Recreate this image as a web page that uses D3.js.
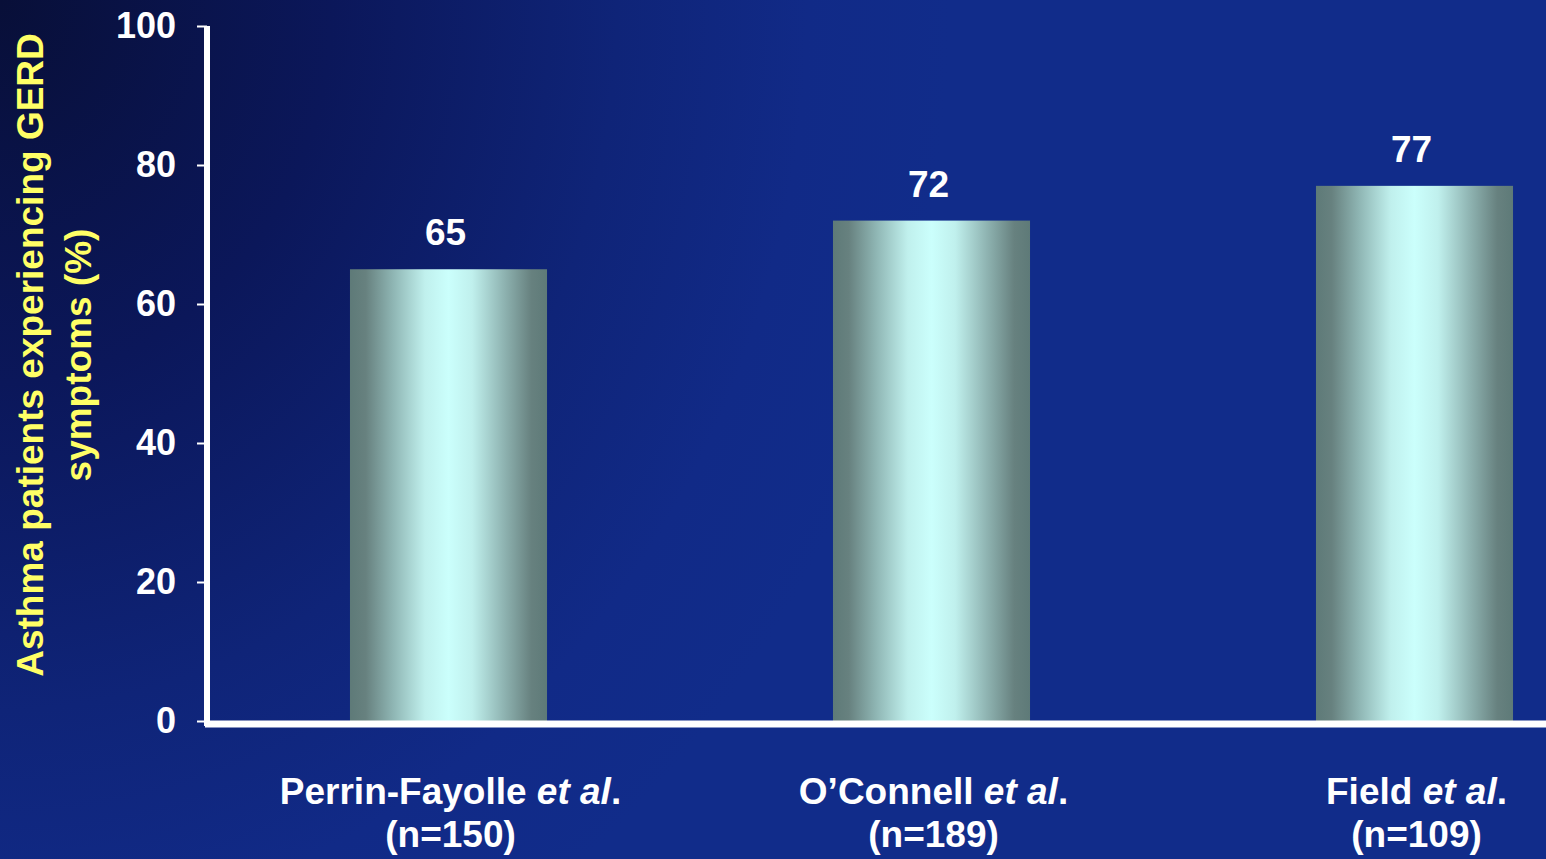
<!DOCTYPE html>
<html><head><meta charset="utf-8">
<script src="https://cdn.jsdelivr.net/npm/d3@7"></script>
<style>html,body{margin:0;padding:0;overflow:hidden;background:#112b89;}svg{display:block;}</style>
</head><body>
<svg id="chart" width="1546" height="859"></svg>
<script>
const categories = ["Perrin-Fayolle", "O\u2019Connell", "Field"];
const sampleSizes = ["(n=150)", "(n=189)", "(n=109)"];
const values = [65, 72, 77];
const yTicks = [0, 20, 40, 60, 80, 100];
const yTitleLines = ["Asthma patients experiencing GERD", "symptoms (%)"];

const W = 1546, H = 859;
const svg = d3.select("#chart");
const defs = svg.append("defs");

const bg = defs.append("radialGradient").attr("id", "bg")
  .attr("gradientUnits", "userSpaceOnUse").attr("cx", 0).attr("cy", 0).attr("r", 950)
  .attr("gradientTransform", "translate(0,0) scale(1,1.15)");
[[0, "#080f38"], [0.35, "#0b175a"], [0.65, "#0f2478"], [0.85, "#112a87"], [1, "#112c8a"]]
  .forEach(([o, c]) => bg.append("stop").attr("offset", o).attr("stop-color", c));
svg.append("rect").attr("width", W).attr("height", H).attr("fill", "url(#bg)");

const barG = defs.append("linearGradient").attr("id", "bar").attr("x1", 0).attr("x2", 1).attr("y1", 0).attr("y2", 0);
[[0, "#5e7a78"], [0.08, "#67817f"], [0.22, "#8fb6b4"], [0.38, "#c0f0ed"], [0.5, "#cbfffc"], [0.62, "#c0f0ed"], [0.78, "#8fb4b2"], [0.92, "#67817f"], [1, "#5e7a78"]]
  .forEach(([o, c]) => barG.append("stop").attr("offset", o).attr("stop-color", c));

const y = d3.scaleLinear().domain([0, 100]).range([721, 26]);
const x = d3.scaleBand().domain(categories).range([207, 1656]).paddingInner(0.592).paddingOuter(0.296);

const font = "'Liberation Sans', Arial, sans-serif";

// bars
svg.append("g").selectAll("rect").data(values).join("rect")
  .attr("x", (d, i) => x(categories[i]))
  .attr("y", d => y(d))
  .attr("width", x.bandwidth())
  .attr("height", d => y(0) - y(d))
  .attr("fill", "url(#bar)");

// value labels
svg.append("g").selectAll("text").data(values).join("text")
  .attr("x", (d, i) => x(categories[i]) + x.bandwidth() / 2 - 3)
  .attr("y", d => y(d) - 24)
  .attr("text-anchor", "middle")
  .attr("fill", "#fff").attr("font-family", font).attr("font-weight", "bold").attr("font-size", 37)
  .text(d => d);

// y axis ticks & labels
const yAxis = d3.axisLeft(y).tickValues(yTicks).tickSize(10).tickPadding(21).tickFormat(d3.format("d"));
const ag = svg.append("g").attr("transform", "translate(207,0)").call(yAxis);
ag.select(".domain").remove();
ag.selectAll(".tick line").attr("stroke", "#fff").attr("stroke-width", 2);
ag.selectAll(".tick text").attr("fill", "#fff").attr("font-family", font).attr("font-weight", "bold").attr("font-size", 36).attr("dy", "0.33em");

// axis lines
svg.append("line").attr("x1", 207).attr("x2", 207).attr("y1", y(100)).attr("y2", 726)
  .attr("stroke", "#fff").attr("stroke-width", 6);
svg.append("line").attr("x1", 205).attr("x2", W).attr("y1", 724).attr("y2", 724)
  .attr("stroke", "#fff").attr("stroke-width", 7);

// category labels
const cg = svg.append("g").selectAll("text").data(categories).join("text")
  .attr("text-anchor", "middle")
  .attr("fill", "#fff").attr("font-family", font).attr("font-weight", "bold").attr("font-size", 37);
cg.append("tspan").attr("x", (d) => x(d) + x.bandwidth() / 2 + 2).attr("y", 804).text(d => d + " ")
  .append("tspan").attr("font-style", "italic").text("et al");
cg.select("tspan").append("tspan").text(".");
cg.append("tspan").attr("x", (d) => x(d) + x.bandwidth() / 2 + 2).attr("y", 847).text((d, i) => sampleSizes[i]);

// y title
const tg = svg.append("g").attr("transform", "translate(0,355) rotate(-90)");
tg.selectAll("text").data(yTitleLines).join("text")
  .attr("x", 0).attr("y", (d, i) => 43 + i * 48)
  .attr("text-anchor", "middle")
  .attr("fill", "#ffff66").attr("font-family", font).attr("font-weight", "bold").attr("font-size", 37)
  .text(d => d);
</script>
</body></html>
